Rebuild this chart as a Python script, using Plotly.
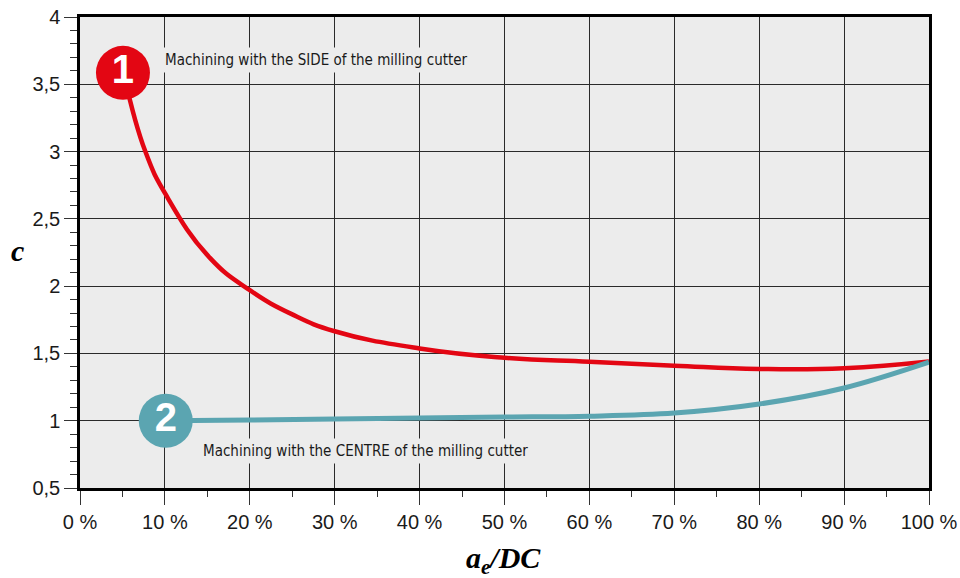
import plotly.graph_objects as go

# Data
side_x = [5.3, 7.7, 10.2, 15.3, 20, 25, 30, 40, 50, 60, 70, 80, 90, 100]
side_y = [3.54, 3.00, 2.67, 2.21, 1.97, 1.79, 1.665, 1.537, 1.468, 1.438, 1.409, 1.385, 1.39, 1.44]
centre_x = [10, 20, 30, 40, 50, 60, 70, 80, 90, 100]
centre_y = [1.0, 1.005, 1.012, 1.02, 1.027, 1.034, 1.057, 1.124, 1.243, 1.435]
x_ticks = [0, 10, 20, 30, 40, 50, 60, 70, 80, 90, 100]
x_labels = ["0 %", "10 %", "20 %", "30 %", "40 %", "50 %", "60 %", "70 %", "80 %", "90 %", "100 %"]
y_ticks = [0.5, 1, 1.5, 2, 2.5, 3, 3.5, 4]
y_labels = ["0,5", "1", "1,5", "2", "2,5", "3", "3,5", "4"]
badge_x = [5.06, 10.1]
badge_y = [3.585, 1.0]
badge_text = ["1", "2"]
notes = ["Machining with the SIDE of the milling cutter",
         "Machining with the CENTRE of the milling cutter"]

RED = "#e30613"
TEAL = "#5ba5b1"
BG = "#ececec"
NOTE_FONT = "DejaVu Sans Condensed, Liberation Sans Narrow, Roboto, sans-serif"

W, H = 960, 578
ml, mr, mt, mb = 80, 31, 17, 90
pw, ph = W - ml - mr, H - mt - mb

fig = go.Figure()
fig.add_trace(go.Scatter(x=side_x, y=side_y, mode="lines",
                         line=dict(color=RED, width=4.5, shape="spline", smoothing=1.3),
                         hoverinfo="skip", showlegend=False))
fig.add_trace(go.Scatter(x=centre_x, y=centre_y, mode="lines",
                         line=dict(color=TEAL, width=5, shape="spline", smoothing=1.0),
                         hoverinfo="skip", showlegend=False))
fig.add_trace(go.Scatter(x=badge_x, y=badge_y, mode="markers+text",
                         marker=dict(size=54, color=[RED, TEAL], line=dict(width=0)),
                         text=badge_text, textposition="middle center",
                         textfont=dict(family="Liberation Sans", size=40, color="white", weight="bold"),
                         hoverinfo="skip", showlegend=False, cliponaxis=False))

fig.add_annotation(x=9.55, y=3.68, xref="x", yref="y", text=notes[0], showarrow=False,
                   xanchor="left", yanchor="middle", bgcolor=BG, borderpad=3,
                   font=dict(family=NOTE_FONT, size=15, color="#1a1a1a"))
fig.add_annotation(x=14.0, y=0.775, xref="x", yref="y", text=notes[1], showarrow=False,
                   xanchor="left", yanchor="middle", bgcolor=BG, borderpad=3,
                   font=dict(family=NOTE_FONT, size=15, color="#1a1a1a"))

fig.add_annotation(x=(18 - ml) / pw, y=(H - mb - 250) / ph, xref="paper", yref="paper",
                   text="<b><i>c</i></b>", showarrow=False, xanchor="center", yanchor="middle",
                   font=dict(family="Liberation Serif", size=30, color="black"))
fig.add_annotation(x=(503 - ml) / pw, y=(H - mb - 560) / ph, xref="paper", yref="paper",
                   text="<b><i>a<sub>e</sub>/DC</i></b>", showarrow=False,
                   xanchor="center", yanchor="middle",
                   font=dict(family="Liberation Serif", size=30, color="black"))

fig.update_layout(
    width=W, height=H,
    margin=dict(l=ml, r=mr, t=mt, b=mb, autoexpand=False),
    paper_bgcolor="white", plot_bgcolor=BG,
    showlegend=False,
    xaxis=dict(range=[0, 100], tickvals=x_ticks, ticktext=x_labels,
               ticks="outside", ticklen=14, tickwidth=1.2, tickcolor="#333",
               showgrid=True, gridcolor="#2a2a2a", gridwidth=1,
               showline=True, linecolor="black", linewidth=2.5, mirror=True,
               zeroline=False, automargin=False,
               minor=dict(dtick=5, ticks="outside", ticklen=6, tickcolor="#333", showgrid=False),
               tickfont=dict(family="Liberation Sans", size=20, color="#1a1a1a")),
    yaxis=dict(range=[0.5, 4], tickvals=y_ticks, ticktext=y_labels,
               ticks="outside", ticklen=13, tickwidth=1.2, tickcolor="#333",
               showgrid=True, gridcolor="#2a2a2a", gridwidth=1,
               showline=True, linecolor="black", linewidth=2.5, mirror=True,
               zeroline=False, automargin=False,
               minor=dict(dtick=0.1, ticks="outside", ticklen=7, tickcolor="#333", showgrid=False),
               tickfont=dict(family="Liberation Sans", size=20, color="#1a1a1a")),
)

fig.write_html("out.html", config={"displayModeBar": False},
               post_script="document.body.style.margin='0';")
